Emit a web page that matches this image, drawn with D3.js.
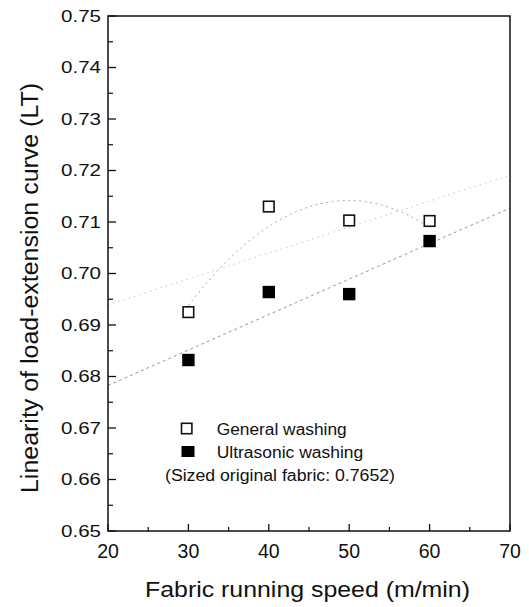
<!DOCTYPE html>
<html>
<head>
<meta charset="utf-8">
<script src="https://cdn.jsdelivr.net/npm/d3@7/dist/d3.min.js"></script>
<style>
  html, body { margin: 0; padding: 0; background: #fff; }
  text { font-family: "Liberation Sans", Arial, Helvetica, sans-serif; fill: #111; }
</style>
</head>
<body>
<svg id="chart" width="529" height="607"></svg>
<script>
// ---- data ----
const speeds = [30, 40, 50, 60];
const generalWashing = [0.6925, 0.7130, 0.7103, 0.7102];
const ultrasonicWashing = [0.6832, 0.6964, 0.6960, 0.7063];
const xTicks = [20, 30, 40, 50, 60, 70];
const yTicks = [0.65, 0.66, 0.67, 0.68, 0.69, 0.70, 0.71, 0.72, 0.73, 0.74, 0.75];
const yTickLabels = ["0.65", "0.66", "0.67", "0.68", "0.69", "0.70", "0.71", "0.72", "0.73", "0.74", "0.75"];
const legendLabels = ["General washing", "Ultrasonic washing"];
const noteLabel = "(Sized original fabric: 0.7652)";
const xTitle = "Fabric running speed (m/min)";
const yTitle = "Linearity of load-extension curve (LT)";

// ---- layout ----
const svg = d3.select("#chart");
const L = 108, R = 510, T = 16, B = 531;
const x = d3.scaleLinear().domain([20, 70]).range([L, R]);
const y = d3.scaleLinear().domain([0.65, 0.75]).range([B, T]);

// least-squares fits computed from the data
function linFit(xs, ys) {
  const mx = d3.mean(xs), my = d3.mean(ys);
  const b = d3.sum(xs, (v, i) => (v - mx) * (ys[i] - my)) / d3.sum(xs, v => (v - mx) ** 2);
  return v => my + b * (v - mx);
}
function quadFit(xs, ys) {
  const mx = d3.mean(xs);
  const t = xs.map(v => v - mx);
  const n = t.length;
  const s1 = d3.sum(t), s2 = d3.sum(t, v => v * v), s3 = d3.sum(t, v => v ** 3), s4 = d3.sum(t, v => v ** 4);
  const sy = d3.sum(ys), sty = d3.sum(t, (v, i) => v * ys[i]), stty = d3.sum(t, (v, i) => v * v * ys[i]);
  const M = [[n, s1, s2, sy], [s1, s2, s3, sty], [s2, s3, s4, stty]];
  for (let i = 0; i < 3; i++) {
    for (let k = i + 1; k < 3; k++) {
      const f = M[k][i] / M[i][i];
      for (let j = i; j < 4; j++) M[k][j] -= f * M[i][j];
    }
  }
  const c = M[2][3] / M[2][2];
  const b = (M[1][3] - M[1][2] * c) / M[1][1];
  const a = (M[0][3] - M[0][1] * b - M[0][2] * c) / M[0][0];
  return v => a + b * (v - mx) + c * (v - mx) ** 2;
}

const fitLine = d3.line().x(d => x(d[0])).y(d => y(d[1]));
function sampled(f, x0, x1) {
  return d3.range(x0, x1 + 0.001, 0.5).map(v => [v, f(v)]);
}

const gLin = linFit(speeds, generalWashing);
const gQuad = quadFit(speeds, generalWashing);
const uLin = linFit(speeds, ultrasonicWashing);

svg.append("path").attr("d", fitLine(sampled(gLin, 20, 70)))
  .attr("fill", "none").attr("stroke", "#c4c4c4").attr("stroke-width", 1).attr("stroke-dasharray", "1.5,4");
svg.append("path").attr("d", fitLine(sampled(gQuad, 30, 60)))
  .attr("fill", "none").attr("stroke", "#a8a8a8").attr("stroke-width", 1).attr("stroke-dasharray", "2,3.5");
svg.append("path").attr("d", fitLine(sampled(uLin, 20, 70)))
  .attr("fill", "none").attr("stroke", "#959595").attr("stroke-width", 1).attr("stroke-dasharray", "3,3");

// ---- frame ----
svg.append("rect").attr("x", L).attr("y", T).attr("width", R - L).attr("height", B - T)
  .attr("fill", "none").attr("stroke", "#111").attr("stroke-width", 1.5);

// y ticks (inward)
const yMinor = d3.range(0.655, 0.75, 0.01);
svg.append("g").selectAll("line.maj").data(yTicks).join("line")
  .attr("x1", L).attr("x2", L + 8).attr("y1", d => y(d)).attr("y2", d => y(d))
  .attr("stroke", "#111").attr("stroke-width", 1.3);
svg.append("g").selectAll("line.min").data(yMinor).join("line")
  .attr("x1", L).attr("x2", L + 5).attr("y1", d => y(d)).attr("y2", d => y(d))
  .attr("stroke", "#111").attr("stroke-width", 1.2);
svg.append("g").selectAll("text").data(yTicks).join("text")
  .attr("x", 61).attr("y", d => y(d) + 5.8)
  .attr("font-size", 16)
  .attr("textLength", 40).attr("lengthAdjust", "spacingAndGlyphs")
  .text((d, i) => yTickLabels[i]);

// x ticks (inward)
const xMinor = d3.range(25, 70, 10);
svg.append("g").selectAll("line.maj").data(xTicks).join("line")
  .attr("x1", d => x(d)).attr("x2", d => x(d)).attr("y1", B).attr("y2", B - 7)
  .attr("stroke", "#111").attr("stroke-width", 1.3);
svg.append("g").selectAll("line.min").data(xMinor).join("line")
  .attr("x1", d => x(d)).attr("x2", d => x(d)).attr("y1", B).attr("y2", B - 4)
  .attr("stroke", "#111").attr("stroke-width", 1.2);
svg.append("g").selectAll("text").data(xTicks).join("text")
  .attr("x", d => x(d)).attr("y", 558).attr("text-anchor", "middle")
  .attr("font-size", 19.5)
  .text(d => d);

// axis titles
svg.append("text").attr("x", 145).attr("y", 597)
  .attr("font-size", 21.5).attr("textLength", 325).attr("lengthAdjust", "spacingAndGlyphs")
  .text(xTitle);
svg.append("text").attr("transform", "translate(38,493) rotate(-90)")
  .attr("font-size", 23).attr("textLength", 410).attr("lengthAdjust", "spacingAndGlyphs")
  .text(yTitle);

// ---- markers ----
const gData = speeds.map((s, i) => [s, generalWashing[i]]);
const uData = speeds.map((s, i) => [s, ultrasonicWashing[i]]);
svg.append("g").selectAll("rect").data(gData).join("rect")
  .attr("x", d => x(d[0]) - 5.3).attr("y", d => y(d[1]) - 5.3)
  .attr("width", 10.6).attr("height", 10.6)
  .attr("fill", "#fff").attr("stroke", "#111").attr("stroke-width", 1.6);
svg.append("g").selectAll("rect").data(uData).join("rect")
  .attr("x", d => x(d[0]) - 6.2).attr("y", d => y(d[1]) - 6.2)
  .attr("width", 12.4).attr("height", 12.4)
  .attr("fill", "#000");

// ---- legend ----
svg.append("rect").attr("x", 181.5).attr("y", 423.3).attr("width", 10.4).attr("height", 10.4)
  .attr("fill", "#fff").attr("stroke", "#111").attr("stroke-width", 1.6);
svg.append("rect").attr("x", 181.5).attr("y", 446).attr("width", 13).attr("height", 11)
  .attr("fill", "#000");
svg.append("text").attr("x", 216.7).attr("y", 435).attr("font-size", 16)
  .attr("textLength", 130).attr("lengthAdjust", "spacingAndGlyphs").text(legendLabels[0]);
svg.append("text").attr("x", 216.7).attr("y", 458).attr("font-size", 16)
  .attr("textLength", 146.5).attr("lengthAdjust", "spacingAndGlyphs").text(legendLabels[1]);
svg.append("text").attr("x", 165).attr("y", 481).attr("font-size", 16)
  .attr("textLength", 230).attr("lengthAdjust", "spacingAndGlyphs").text(noteLabel);
</script>
</body>
</html>
